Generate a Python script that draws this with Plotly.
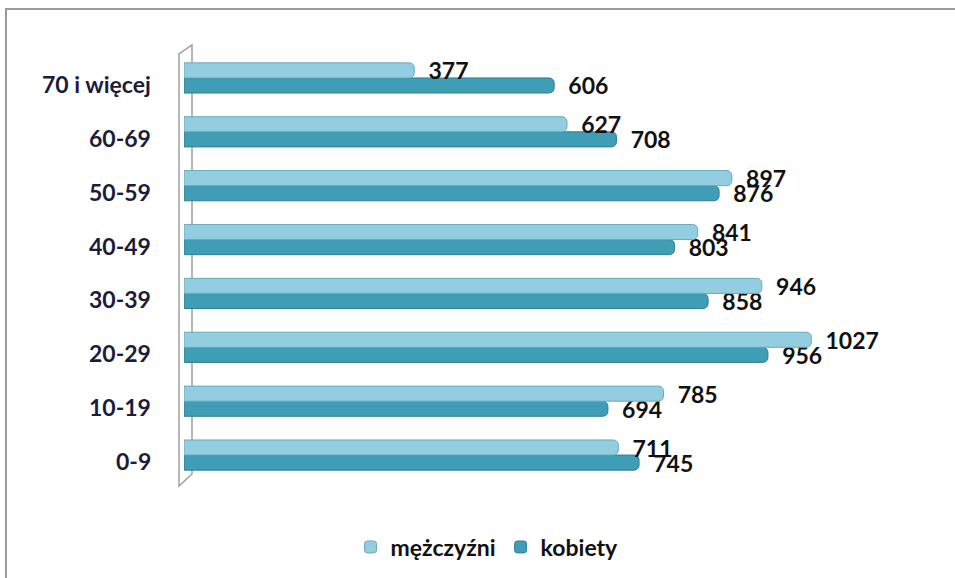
import plotly.graph_objects as go

categories = ["0-9", "10-19", "20-29", "30-39", "40-49", "50-59", "60-69", "70 i więcej"]
men = [711, 785, 1027, 946, 841, 897, 627, 377]
women = [745, 694, 956, 858, 803, 876, 708, 606]
series_names = ["mężczyźni", "kobiety"]

W, H = 955, 578
L, R, T, B = 184, 38, 51, 96
pw = W - L - R
ph = H - T - B

def px(x):
    return (x - L) / pw

def py(y):
    return 1 - (y - T) / ph

font_main = "Lato, 'Open Sans', sans-serif"
pad = "\u00a0\u00a0"

fig = go.Figure()
fig.add_trace(go.Bar(
    y=categories, x=women, name=series_names[1], orientation="h",
    marker=dict(color="#3f9db6", line=dict(color="#2f7f95", width=1)),
    text=[pad + str(v) for v in women], textposition="outside", constraintext="none",
    textfont=dict(family=font_main, size=23, color="#111111", weight="bold"),
    legendrank=2, cliponaxis=False, hoverinfo="skip",
))
fig.add_trace(go.Bar(
    y=categories, x=men, name=series_names[0], orientation="h",
    marker=dict(color="#93cee0", line=dict(color="#6aa9bd", width=1)),
    text=[pad + str(v) for v in men], textposition="outside", constraintext="none",
    textfont=dict(family=font_main, size=23, color="#111111", weight="bold"),
    legendrank=1, cliponaxis=False, hoverinfo="skip",
))

shapes = [
    dict(type="rect", xref="paper", yref="paper",
         x0=px(6), x1=px(W + 5), y0=py(H + 5), y1=py(9),
         line=dict(color="#9a9a9a", width=2), fillcolor="rgba(0,0,0,0)", layer="below"),
    dict(type="path", xref="paper", yref="paper",
         path=f"M {px(179)},{py(486)} L {px(179)},{py(54)} L {px(192)},{py(45)} L {px(192)},{py(474)} Z",
         line=dict(color="#a0a0a0", width=1.5), fillcolor="rgba(255,255,255,0)", layer="below"),
]

annotations = [
    dict(x=px(153), xref="paper", y=c, yref="y", text=c, showarrow=False,
         xanchor="right", yanchor="middle", yshift=-6,
         font=dict(family=font_main, size=23, color="#1c1c3a", weight="bold"))
    for c in categories
]

fig.update_layout(
    width=W, height=H,
    margin=dict(l=L, r=R, t=T, b=B, autoexpand=False),
    paper_bgcolor="white", plot_bgcolor="white",
    barmode="group", bargap=0.44, bargroupgap=0.0,
    barcornerradius=5,
    showlegend=True,
    legend=dict(orientation="h", x=px(487), xanchor="center", y=py(547), yanchor="middle",
                font=dict(family=font_main, size=23, color="#111111", weight="bold"),
                itemwidth=30, tracegroupgap=0),
    xaxis=dict(range=[0, 1200], visible=False, fixedrange=True),
    yaxis=dict(type="category", categoryorder="array", categoryarray=categories,
               showgrid=False, zeroline=False, showline=False, ticks="",
               showticklabels=False, fixedrange=True),
    shapes=shapes,
    annotations=annotations,
    font=dict(family=font_main),
)

fig.write_html("out.html", config={"displayModeBar": False},
               post_script="document.body.style.margin='0';")
